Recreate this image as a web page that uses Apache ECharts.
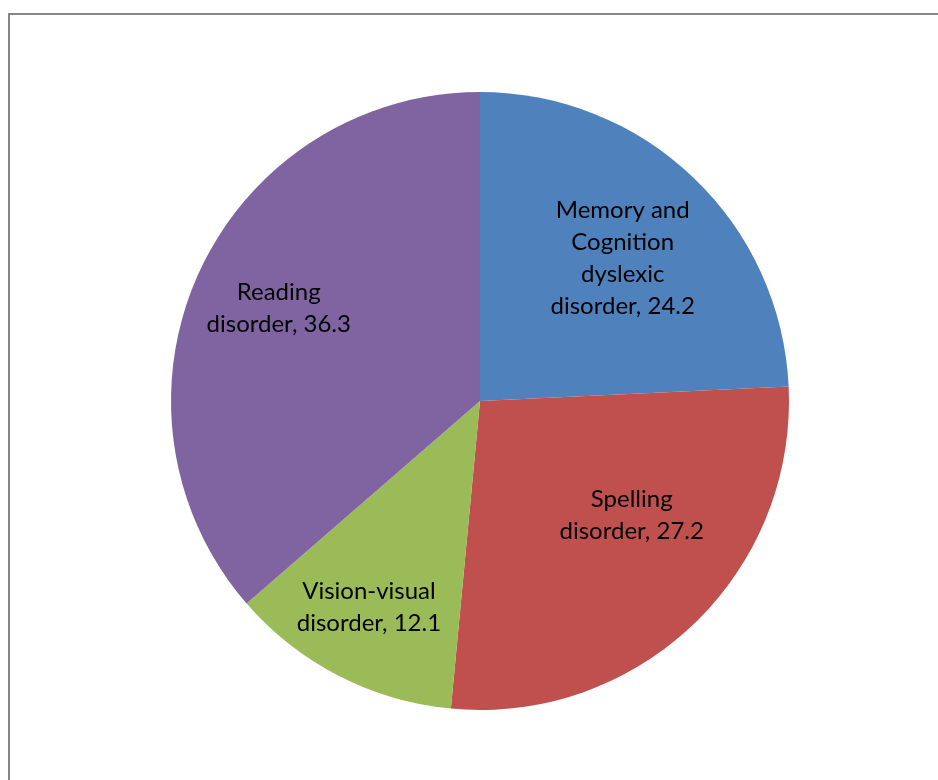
<!DOCTYPE html>
<html>
<head>
<meta charset="utf-8">
<script src="https://cdn.jsdelivr.net/npm/echarts@6/dist/echarts.min.js"></script>
<style>html,body{margin:0;padding:0;background:#fff;}#c{width:938px;height:780px;}</style>
</head>
<body>
<div id="c"></div>
<script>
const categories = ["Memory and\nCognition\ndyslexic\ndisorder", "Spelling\ndisorder", "Vision-visual\ndisorder", "Reading\ndisorder"];
const values = [24.2, 27.2, 12.1, 36.3];
const colors = ["#4F81BD", "#C0504D", "#9BBB59", "#8064A2"];
const labelShift = [[34, -29], [43, 0], [-39, 66], [-58, -27]];

const chart = echarts.init(document.getElementById('c'), null, {renderer: 'canvas'});
chart.setOption({
  animation: false,
  backgroundColor: '#fff',
  graphic: [{
    type: 'rect',
    shape: {x: 9, y: 14, width: 960, height: 800},
    style: {fill: 'none', stroke: '#868686', lineWidth: 2},
    z: 0
  }],
  series: [{
    type: 'pie',
    center: [480, 401],
    radius: [0, 309],
    startAngle: 90,
    clockwise: true,
    avoidLabelOverlap: false,
    itemStyle: {borderWidth: 0},
    label: {
      show: true,
      position: 'inside',
      formatter: p => p.name + ', ' + p.value,
      fontFamily: 'Lato',
      fontSize: 24,
      lineHeight: 32,
      color: '#000',
      align: 'center'
    },
    labelLine: {show: false},
    labelLayout: p => ({dx: labelShift[p.dataIndex][0], dy: labelShift[p.dataIndex][1]}),
    emphasis: {disabled: true},
    data: categories.map((n, i) => ({name: n, value: values[i], itemStyle: {color: colors[i]}}))
  }]
});
</script>
</body>
</html>
